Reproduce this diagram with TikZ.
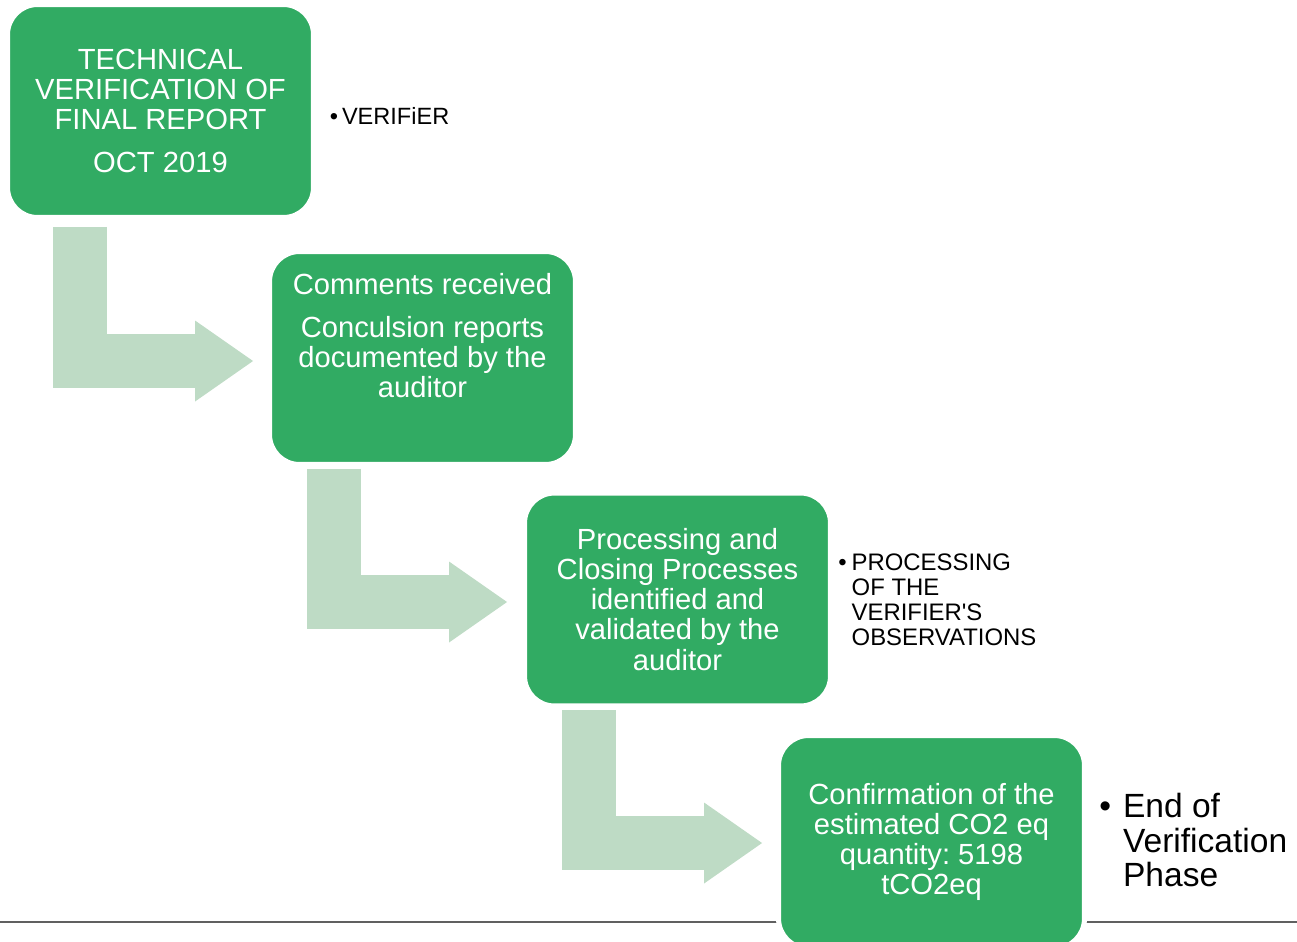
\documentclass[tikz,border=0pt]{standalone}
\usepackage{fontspec}
\setmainfont{Liberation Sans}[Ligatures=TeXOff]
\usetikzlibrary{positioning,calc,arrows.meta}
\frenchspacing

\definecolor{stepgreen}{RGB}{49,171,99}
\definecolor{arrowgreen}{RGB}{190,219,197}
\definecolor{rulegray}{RGB}{96,96,96}

\tikzset{
  stagebox/.style={rectangle, rounded corners=0.6cm, fill=stepgreen, draw=white, line width=0.1cm,
    minimum width=6.12cm, minimum height=4.26cm, inner sep=0pt, text=white, align=center,
    font=\fontsize{16.6}{17.1}\selectfont},
  bentarrow/.style={draw=arrowgreen, line width=1.08cm,
    -{Triangle[length=1.16cm,width=1.62cm,line width=0pt]}},
  note/.style={align=left, inner sep=0pt, anchor=west}
}

\begin{document}
\begin{tikzpicture}[x=0.02cm,y=-0.02cm]

      \useasboundingbox (0,0) rectangle (1297,941);
      \clip (0,0) rectangle (1297,941);

      % rule at the foot of the page
      \coordinate (ruleL) at (0,922);
      \coordinate (ruleR) at (1297,922);
      \draw[rulegray, line width=1.1pt] (ruleL) -- (ruleR);

      \node[stagebox] (verif)    at (160.5,111) {TECHNICAL\\VERIFICATION OF\\FINAL REPORT\\[7.4pt]OCT 2019};
      \node[stagebox, text depth=0.89cm] (comments) at (422.5,358) {Comments received\\[7.4pt]Conculsion reports\\documented by the\\auditor};
      \node[stagebox] (closing)  at (677.5,599.5) {Processing and\\Closing Processes\\identified and\\validated by the\\auditor};
      \node[stagebox] (confirm)  at (931.5,842) {Confirmation of the\\estimated CO2 eq\\quantity: 5198\\tCO2eq};

      % side notes
      \node[note, font=\fontsize{13.4}{14.2}\selectfont, right=0.27cm of verif, yshift=-0.1cm] (verifier) {•\hspace{0.08cm}VERIFiER};
      \node[note, font=\fontsize{13.6}{14.2}\selectfont, right=0.1cm of closing] (observations)
        {•\hspace{0.1cm}PROCESSING\\\hphantom{•\hspace{0.1cm}}OF THE\\\hphantom{•\hspace{0.1cm}}VERIFIER'S\\\hphantom{•\hspace{0.1cm}}OBSERVATIONS};
      \node[note, font=\fontsize{19.1}{19.9}\selectfont, right=0.24cm of confirm, yshift=0.04cm] (endphase)
        {•\hspace{0.24cm}End of\\\hphantom{•\hspace{0.24cm}}Verification\\\hphantom{•\hspace{0.24cm}}Phase};

      % bent arrows between the steps
      \draw[bentarrow] ($(verif.south west)+(75,7)$) |- ($(comments.west)+(-14,3)$);
      \draw[bentarrow] ($(comments.south west)+(67,2)$) |- ($(closing.west)+(-15,2.5)$);
      \draw[bentarrow] ($(closing.south west)+(67,2)$) |- ($(confirm.west)+(-14,1)$);

\end{tikzpicture}
\end{document}
